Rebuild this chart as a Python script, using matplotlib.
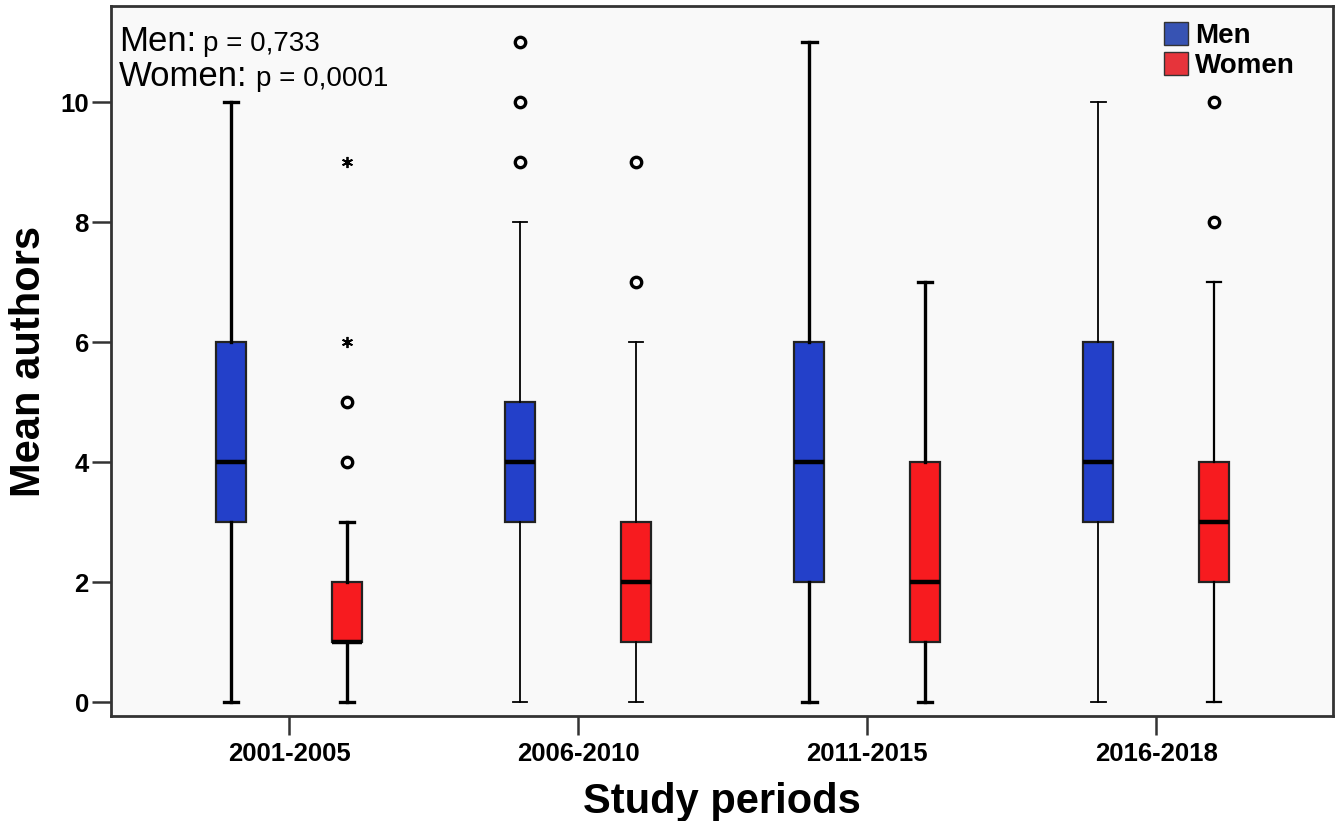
import matplotlib
matplotlib.use("Agg")
import matplotlib.pyplot as plt
from matplotlib.patches import Patch

# Mean authors per study period, split by sex
periods = ["2001-2005", "2006-2010", "2011-2015", "2016-2018"]

men_low = [0, 0, 0, 0]
men_q1 = [3, 3, 2, 3]
men_med = [4, 4, 4, 4]
men_q3 = [6, 5, 6, 6]
men_high = [10, 8, 11, 10]
men_outliers = [[], [9, 10, 11], [], []]
men_extremes = [[], [], [], []]

women_low = [0, 0, 0, 0]
women_q1 = [1, 1, 1, 2]
women_med = [1, 2, 2, 3]
women_q3 = [2, 3, 4, 4]
women_high = [3, 6, 7, 7]
women_outliers = [[4, 5], [7, 9], [], [8, 10]]
women_extremes = [[6, 9], [], [], []]

p_men = "p = 0,733"
p_women = "p = 0,0001"

MEN_COL = "#2340c9"
WOMEN_COL = "#f71b1f"
FONT = "Liberation Sans"


def make_stats(low, q1, med, q3, high, outl):
    stats = []
    for i in range(len(low)):
        stats.append({"whislo": low[i], "q1": q1[i], "med": med[i],
                      "q3": q3[i], "whishi": high[i], "fliers": outl[i]})
    return stats


def draw_group(ax, stats, extremes, offset, color, whisker_lw):
    pos = [i + 1 + offset for i in range(len(stats))]
    res = ax.bxp(stats, positions=pos, widths=0.104, patch_artist=True,
                 showfliers=True, manage_ticks=False,
                 boxprops=dict(facecolor=color, edgecolor="#222222", linewidth=1.6),
                 medianprops=dict(color="black", linewidth=3.2),
                 capwidths=0.05,
                 flierprops=dict(marker="o", markersize=7.5, markerfacecolor="none",
                                 markeredgecolor="black", markeredgewidth=2.4,
                                 linestyle="none"))
    for i in range(len(stats)):
        for ln in res["whiskers"][2 * i:2 * i + 2] + res["caps"][2 * i:2 * i + 2]:
            ln.set_color("black")
            ln.set_linewidth(whisker_lw[i])
    for i, ext in enumerate(extremes):
        if ext:
            ax.plot([pos[i]] * len(ext), ext, linestyle="none", marker=(6, 2, 0),
                    markersize=8, markeredgewidth=1.3, color="black")


fig = plt.figure(figsize=(13.41, 8.21), dpi=100)
ax = fig.add_axes([111 / 1341, 1 - 716 / 821, (1333 - 111) / 1341, (716 - 6) / 821])
ax.set_facecolor("#f9f9f9")

draw_group(ax, make_stats(men_low, men_q1, men_med, men_q3, men_high, men_outliers),
           men_extremes, -0.2, MEN_COL, [2.4, 1.3, 2.4, 1.3])
draw_group(ax, make_stats(women_low, women_q1, women_med, women_q3, women_high, women_outliers),
           women_extremes, 0.2, WOMEN_COL, [2.4, 1.3, 2.4, 1.6])

ax.set_xlim(0.384, 4.612)
ax.set_ylim(-0.233, 11.6)
ax.set_xticks(range(1, len(periods) + 1))
ax.set_xticklabels(periods)
ax.set_yticks([0, 2, 4, 6, 8, 10])

for sp in ax.spines.values():
    sp.set_color("#333333")
    sp.set_linewidth(2)

ax.tick_params(axis="both", direction="out", length=14, width=1.8, color="#333333",
               labelsize=18.5)
ax.tick_params(axis="x", pad=5)
ax.tick_params(axis="y", pad=2)
for lab in ax.get_xticklabels() + ax.get_yticklabels():
    lab.set_fontfamily(FONT)
    lab.set_fontweight("bold")

ax.set_ylabel("Mean authors", fontsize=30, fontweight="bold", family=FONT, labelpad=8)
ax.set_xlabel("Study periods", fontsize=30, fontweight="bold", family=FONT, labelpad=11)

# p-values in the top left corner
fig.text(119 / 1341, 1 - 51 / 821, "Men:", fontsize=25, family=FONT)
fig.text(203 / 1341, 1 - 51 / 821, p_men, fontsize=20, family=FONT)
fig.text(119 / 1341, 1 - 86 / 821, "Women:", fontsize=25, family=FONT)
fig.text(256 / 1341, 1 - 86 / 821, p_women, fontsize=20, family=FONT)

handles = [Patch(facecolor="#3753b3", edgecolor="#333333", label="Men"),
           Patch(facecolor="#e6343b", edgecolor="#333333", label="Women")]
leg = ax.legend(handles=handles, loc="upper right", frameon=False,
                bbox_to_anchor=(0.969, 0.977), handlelength=0.86, handleheight=0.86,
                handletextpad=0.25, labelspacing=0.12, borderaxespad=0, borderpad=0,
                prop={"family": FONT, "weight": "bold", "size": 20})

fig.savefig("out.png", dpi=100)
